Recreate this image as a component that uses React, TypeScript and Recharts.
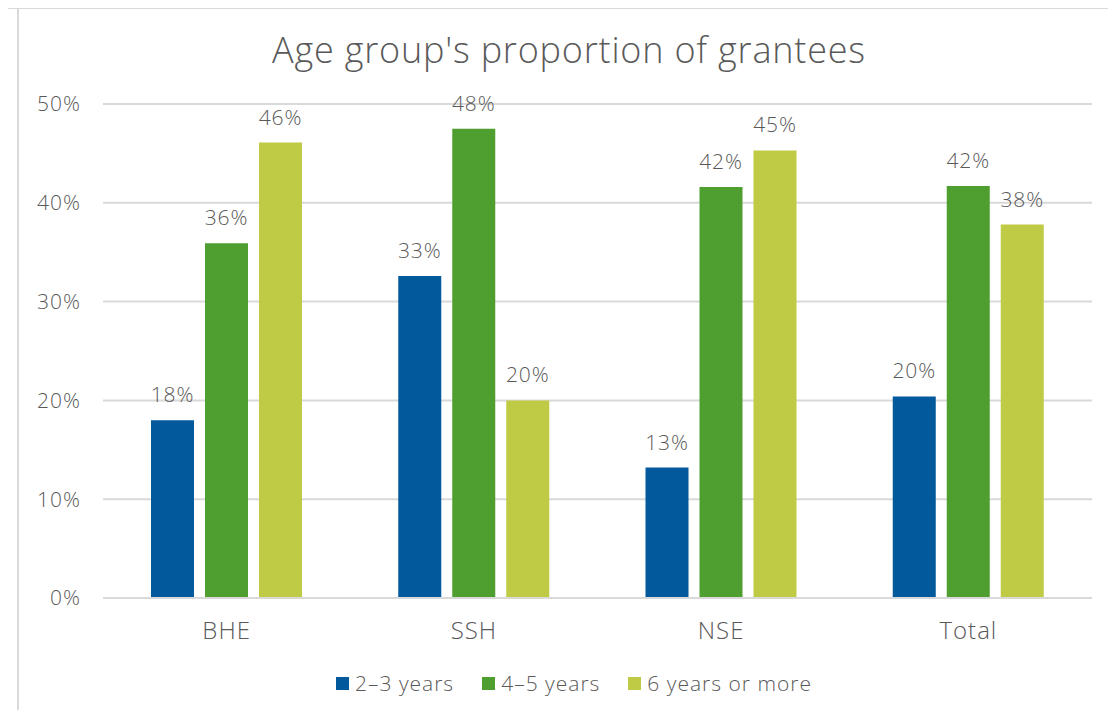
import { BarChart, Bar, XAxis, YAxis, CartesianGrid, Legend, LabelList } from 'recharts'

const categories = ['BHE', 'SSH', 'NSE', 'Total']
const years23 = [18.0, 32.6, 13.2, 20.4]
const years45 = [35.9, 47.5, 41.6, 41.7]
const years6plus = [46.1, 20.0, 45.3, 37.8]
const yTicks = [0, 10, 20, 30, 40, 50]

const series = [
  { key: 'y23', name: '2\u20133 years', color: '#02599C', values: years23 },
  { key: 'y45', name: '4\u20135 years', color: '#4E9F2F', values: years45 },
  { key: 'y6', name: '6 years or more', color: '#BFCA45', values: years6plus },
]

const data = categories.map((cat, i) => {
  const row: Record<string, string | number> = { cat }
  series.forEach((s) => { row[s.key] = s.values[i] })
  return row
})

const FONT = '"Open Sans", Lato, sans-serif'
const GREY = '#595959'

function LegendContent() {
  return (
    <div style={{ display: 'flex', justifyContent: 'center', paddingLeft: 32, fontFamily: FONT, fontSize: 21, fontWeight: 300, letterSpacing: 1, color: GREY }}>
      {series.map((s, i) => (
        <div key={s.key} style={{ display: 'flex', alignItems: 'center', marginRight: i < series.length - 1 ? 28 : 0 }}>
          <span style={{ width: 13, height: 13, background: s.color, marginRight: 6, display: 'inline-block' }} />
          <span>{s.name}</span>
        </div>
      ))}
    </div>
  )
}

export default function App() {
  return (
    <div style={{ position: 'relative', width: 1100, height: 702, fontFamily: FONT }}>
      <div style={{ position: 'absolute', left: 0, top: -1, width: 1108, height: 2, background: '#d9d9d9' }} />
      <div style={{ position: 'absolute', left: 9, top: 0, width: 2, height: 710, background: '#d9d9d9' }} />
      <div style={{ position: 'absolute', left: 0, top: 17, width: 1122, textAlign: 'center', fontSize: 36, letterSpacing: 0.8, color: GREY, fontWeight: 300 }}>
        Age group's proportion of grantees
      </div>
      <BarChart
        width={1100}
        height={702}
        data={data}
        margin={{ top: 96, right: 16, left: 0, bottom: 66 }}
        barSize={43}
        barGap={11}
      >
        <CartesianGrid vertical={false} stroke="#d9d9d9" strokeWidth={2} />
        <XAxis
          dataKey="cat"
          axisLine={{ stroke: '#d9d9d9', strokeWidth: 2 }}
          tickLine={false}
          tickSize={0}
          tickMargin={24}
          height={46}
          tick={{ fill: GREY, fontSize: 24, fontWeight: 300, letterSpacing: 1, fontFamily: FONT }}
        />
        <YAxis
          domain={[0, 50]}
          ticks={yTicks}
          width={95}
          axisLine={false}
          tickLine={false}
          tickSize={0}
          tickMargin={22}
          tickFormatter={(v: number) => `${v}%`}
          tick={{ fill: GREY, fontSize: 21, fontWeight: 300, letterSpacing: 1, fontFamily: FONT }}
        />
        <Legend
          verticalAlign="middle"
          align="center"
          content={<LegendContent />}
          wrapperStyle={{ top: 661, left: 0, width: 1100 }}
        />
        {series.map((s) => (
          <Bar key={s.key} dataKey={s.key} name={s.name} fill={s.color} isAnimationActive={false}>
            <LabelList
              dataKey={s.key}
              position="top"
              offset={18}
              formatter={(v: number) => `${Math.round(v)}%`}
              style={{ fill: GREY, fontSize: 21, fontWeight: 300, letterSpacing: 0.8, fontFamily: FONT }}
            />
          </Bar>
        ))}
      </BarChart>
    </div>
  )
}
